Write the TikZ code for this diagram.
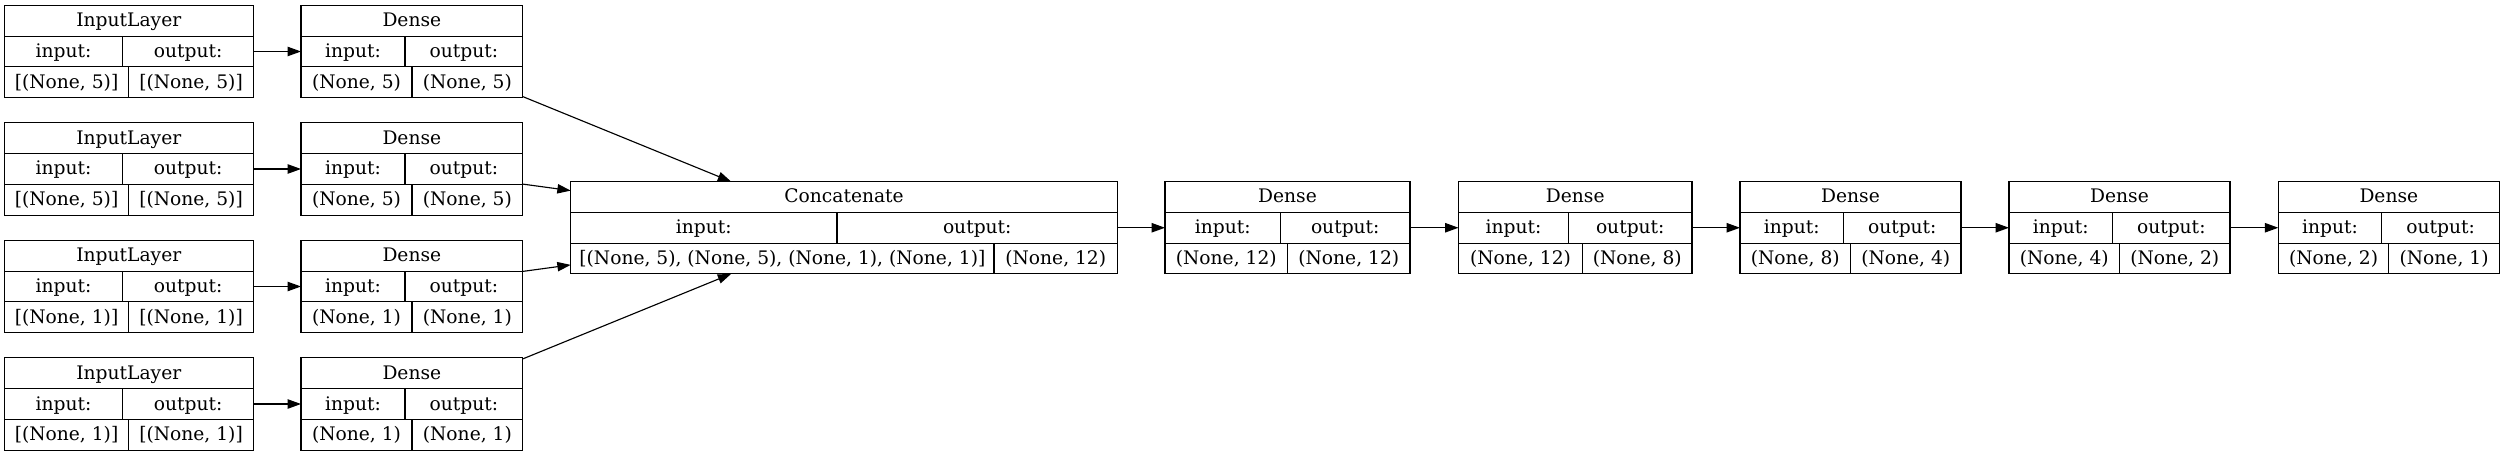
\documentclass[tikz,border=0pt]{standalone}
\usepackage{fontspec}
\setmainfont{DejaVu Serif}
\usetikzlibrary{arrows.meta}

% one layer: name, left, centre y, width, divider of row 2, divider of row 3, title, input, output
\newcommand{\netlayer}[9]{%
  \node[layerbox, minimum width=#4*0.75pt, anchor=west] (#1) at (#2,#3) {};
  \draw (#2,#3-15.4) -- ++(#4,0) (#2,#3+15.4) -- ++(#4,0)
    (#2+#5,#3-15.4) -- ++(0,30.8) (#2+#6,#3+15.4) -- ++(0,30.8);
  \node[cell] (#1t) at (#2+#4/2,#3-24.8) {#7};
  \node[cell] (#1i) at (#2+#5/2,#3+6) {input:};
  \node[cell] (#1o) at (#2+#5/2+#4/2,#3+6) {output:};
  \node[cell] (#1a) at (#2+#6/2,#3+36.8) {#8};
  \node[cell] (#1b) at (#2+#6/2+#4/2,#3+36.8) {#9};
}

\begin{document}
\begin{tikzpicture}
  [x=0.75pt, y=-0.75pt, line width=0.85pt,
   layerbox/.style={draw, inner sep=0pt, outer sep=0pt, minimum height=69.2pt},
   cell/.style={anchor=base, inner sep=0pt, font=\fontsize{14}{17}\selectfont},
   edge/.style={-{Triangle[length=10pt,width=7pt]}}]
  \useasboundingbox (0,0) rectangle (2505,456);

  \netlayer{i1}{4.3}{51.5}{249}{118.5}{124.5}{InputLayer}{[(None, 5)]}{[(None, 5)]}
  \netlayer{i2}{4.3}{169}{249}{118.5}{124.5}{InputLayer}{[(None, 5)]}{[(None, 5)]}
  \netlayer{i3}{4.3}{286.5}{249}{118.5}{124.5}{InputLayer}{[(None, 1)]}{[(None, 1)]}
  \netlayer{i4}{4.3}{404}{249}{118.5}{124.5}{InputLayer}{[(None, 1)]}{[(None, 1)]}

  \netlayer{d1}{301}{51.5}{221.7}{104}{111}{Dense}{(None, 5)}{(None, 5)}
  \netlayer{d2}{301}{169}{221.7}{104}{111}{Dense}{(None, 5)}{(None, 5)}
  \netlayer{d3}{301}{286.5}{221.7}{104}{111}{Dense}{(None, 1)}{(None, 1)}
  \netlayer{d4}{301}{404}{221.7}{104}{111}{Dense}{(None, 1)}{(None, 1)}

  \netlayer{cc}{570.7}{227.75}{546.8}{266.3}{423.3}{Concatenate}{[(None, 5), (None, 5), (None, 1), (None, 1)]}{(None, 12)}

  \netlayer{d5}{1165}{227.75}{245}{115.5}{122.5}{Dense}{(None, 12)}{(None, 12)}
  \netlayer{d6}{1458.5}{227.75}{233.5}{110}{124}{Dense}{(None, 12)}{(None, 8)}
  \netlayer{d7}{1740}{227.75}{221}{103.5}{110.5}{Dense}{(None, 8)}{(None, 4)}
  \netlayer{d8}{2009}{227.75}{221}{103.5}{110.5}{Dense}{(None, 4)}{(None, 2)}
  \netlayer{d9}{2278.3}{227.75}{221}{103.5}{110.5}{Dense}{(None, 2)}{(None, 1)}

  \foreach \from/\to in {i1/d1,i2/d2,i3/d3,i4/d4,d1/cc,d2/cc,d3/cc,d4/cc,cc/d5,d5/d6,d6/d7,d7/d8,d8/d9}
  \draw[edge] (\from) -- (\to);
\end{tikzpicture}
\end{document}
